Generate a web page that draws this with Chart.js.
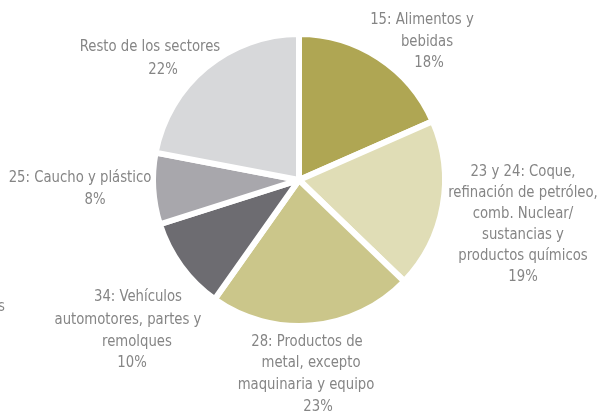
<!DOCTYPE html>
<html>
<head>
<meta charset="utf-8">
<script src="https://cdn.jsdelivr.net/npm/chart.js@4.4.0/dist/chart.umd.min.js"></script>
<style>
  html, body { margin: 0; padding: 0; background: #ffffff; }
  #wrap { width: 599px; height: 411px; position: relative; }
</style>
</head>
<body>
<div id="wrap"><canvas id="c" width="599" height="411"></canvas></div>
<script>
// ---- data ----
const categories = [
  "15: Alimentos y bebidas",
  "23 y 24: Coque, refinación de petróleo, comb. Nuclear/ sustancias y productos químicos",
  "28: Productos de metal, excepto maquinaria y equipo",
  "34: Vehículos automotores, partes y remolques",
  "25: Caucho y plástico",
  "Resto de los sectores"
];
const values = [18.4, 18.8, 22.6, 10.3, 7.9, 22.0];
const percentLabels = ["18%", "19%", "23%", "10%", "8%", "22%"];
const labelLines = [
  ["15: Alimentos y", "bebidas"],
  ["23 y 24: Coque,", "refinación de petróleo,", "comb. Nuclear/", "sustancias y", "productos químicos"],
  ["28: Productos de", "metal, excepto", "maquinaria y equipo"],
  ["34: Vehículos", "automotores, partes y", "remolques"],
  ["25: Caucho y plástico"],
  ["Resto de los sectores"]
];

// ---- styles / layout ----
const colors = ["#AFA653", "#E0DDB6", "#CBC68A", "#6D6C71", "#A8A7AC", "#D7D8DA"];
const FONT = "16px 'Liberation Sans Narrow', 'DejaVu Sans Condensed', 'Roboto', sans-serif";
const TEXT_COLOR = "#858585";
const TEXT_SCALE_X = 0.92;
// per-line offsets (px) of each label's lines relative to pie centre
const labelLayout = [
  { dx: [123, 128, 130], dy: [-160, -138, -117] },
  { dx: [224, 224, 224, 224, 224, 224], dy: [-8, 13, 34, 55, 76, 97] },
  { dx: [8, 12, 7, 19], dy: [162, 183, 205, 227] },
  { dx: [-161, -171, -162, -167], dy: [117, 140, 162, 183] },
  { dx: [-219, -204], dy: [-2, 20] },
  { dx: [-149, -136], dy: [-133, -110] }
];

function drawText(ctx, t, x, y) {
  ctx.save();
  ctx.translate(x, y);
  ctx.scale(TEXT_SCALE_X, 1);
  ctx.fillText(t, 0, 0);
  ctx.restore();
}

const labelPlugin = {
  id: 'sliceLabels',
  afterDraw(chart) {
    const ctx = chart.ctx;
    const arc = chart.getDatasetMeta(0).data[0];
    const cx = arc.x, cy = arc.y;
    ctx.save();
    ctx.font = FONT;
    ctx.fillStyle = TEXT_COLOR;
    ctx.textAlign = 'center';
    ctx.textBaseline = 'middle';
    labelLines.forEach((lines, i) => {
      const all = lines.concat([percentLabels[i]]);
      const lay = labelLayout[i];
      all.forEach((t, j) => drawText(ctx, t, cx + lay.dx[j], cy + lay.dy[j]));
    });
    // clipped fragment of a neighbouring label at the left edge
    ctx.textAlign = 'right';
    drawText(ctx, 's', 5, 307);
    ctx.restore();
  }
};

new Chart(document.getElementById('c'), {
  type: 'pie',
  data: {
    labels: categories,
    datasets: [{
      data: values,
      backgroundColor: colors,
      borderColor: '#ffffff',
      borderWidth: 6,
      hoverOffset: 0
    }]
  },
  options: {
    responsive: false,
    animation: false,
    radius: 146,
    layout: { padding: { top: 30, bottom: 81, left: 0, right: 1 } },
    plugins: {
      legend: { display: false },
      tooltip: { enabled: false }
    }
  },
  plugins: [labelPlugin]
});
</script>
</body>
</html>
